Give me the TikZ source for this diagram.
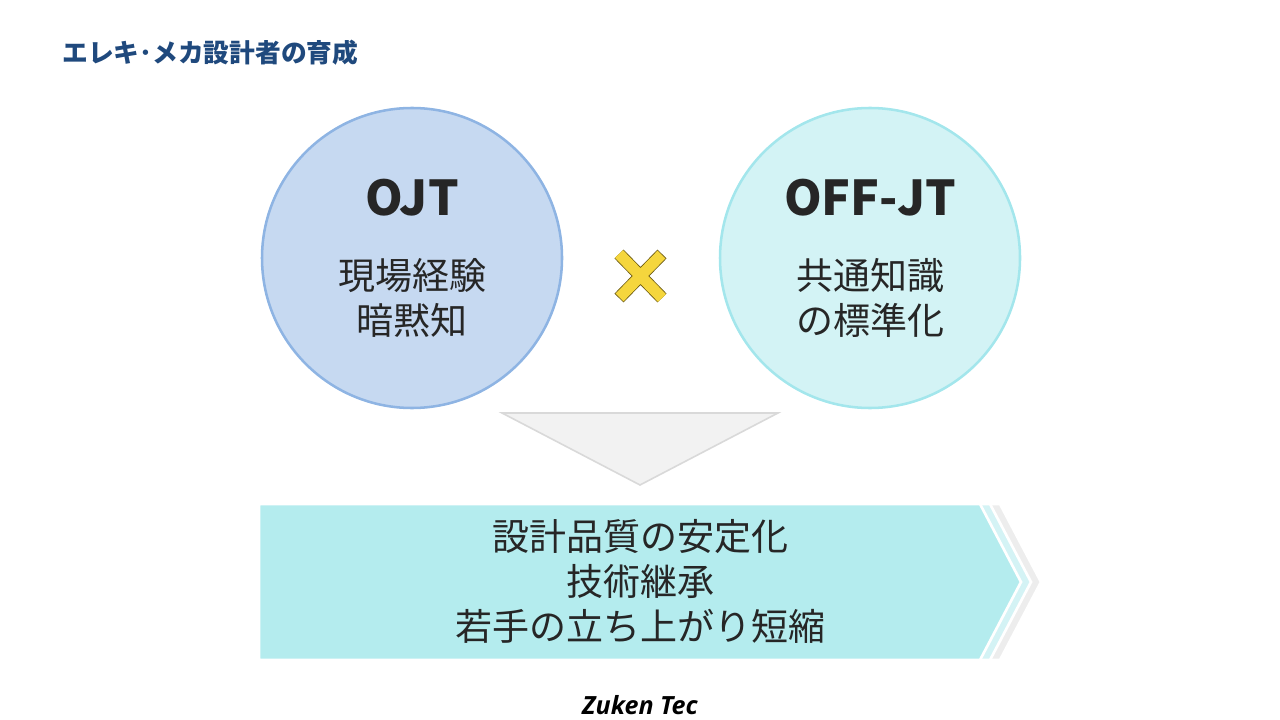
\documentclass[tikz,border=0pt]{standalone}
\usepackage{fontspec}
\setmainfont{Noto Sans CJK JP}
\newfontfamily\logofont{Open Sans}
\usetikzlibrary{positioning}

\definecolor{titleblue}{HTML}{1F497D}
\definecolor{ojtfill}{HTML}{C6D9F1}
\definecolor{ojtline}{HTML}{8EB4E3}
\definecolor{offfill}{HTML}{D3F3F5}
\definecolor{offline}{HTML}{A3E6EC}
\definecolor{gainfill}{HTML}{B4ECEE}
\definecolor{gainmid}{HTML}{D4F3F5}
\definecolor{gainback}{HTML}{EDEDED}
\definecolor{crossfill}{HTML}{F5D63D}
\definecolor{crossline}{HTML}{6B5A10}
\definecolor{funnelfill}{HTML}{F2F2F2}
\definecolor{funnelline}{HTML}{D9D9D9}
\definecolor{ink}{HTML}{262626}

\begin{document}
\begin{tikzpicture}[
  x=0.75pt, y=-0.75pt,
  bubble/.style={circle, line width=1.9pt, minimum size=225pt, inner sep=0pt},
  head/.style={font=\fontsize{36}{38}\selectfont\bfseries, text=ink},
  body/.style={font=\fontsize{27.75}{33.75}\selectfont, text=ink, align=center},
  chevron/.style={draw=white, line width=2pt}
]
\useasboundingbox (0,0) rectangle (1280,720);

% title
\node[anchor=west, text=titleblue, font=\fontsize{19.3}{21}\selectfont\bfseries, inner sep=0pt] (title) at (62,53) {エレキ･メカ設計者の育成};

% two circles
\node[bubble, fill=ojtfill, draw=ojtline] (ojt) at (412,258) {};
\node[bubble, fill=offfill, draw=offline] (offjt) at (870,258) {};
\node[head] (ojthead) at (412,198) {OJT};
\node[head] (offhead) at (870,198) {OFF-JT};
\node[body] (ojtbody) at (412,298) {現場経験\\暗黙知};
\node[body] (offbody) at (870,298) {共通知識\\の標準化};

% cross
\draw[crossline, line width=9.5pt] (619,254) -- (662,298) (662,254) -- (619,298);
\draw[crossfill, line width=8.3pt, shorten >=0.6pt, shorten <=0.6pt] (619,254) -- (662,298) (662,254) -- (619,298);

% funnel
\draw[fill=funnelfill, draw=funnelline, line width=1.2pt] (502,413) -- (778,413) -- (640,485) -- cycle;

% result chevrons
\foreach \o/\c in {20/gainback, 10/gainmid, 0/gainfill}
  \fill[\c, chevron] (259+\o,504) -- (980+\o,504) -- (1021+\o,582) -- (980+\o,660) -- (259+\o,660) -- cycle;
\node[body] (gain) at (640,581) {設計品質の安定化\\技術継承\\若手の立ち上がり短縮};

% logo
\node[font=\logofont\fontsize{18.8}{20}\selectfont\bfseries\itshape, text=black] (logo) at (640,705) {Zuken Tec};
\end{tikzpicture}
\end{document}
